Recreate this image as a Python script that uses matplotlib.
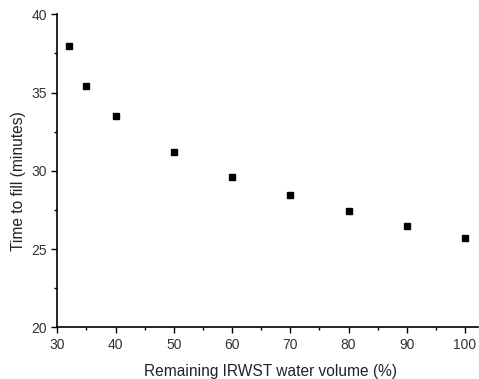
import matplotlib.pyplot as plt

# remaining IRWST water volume (%) vs time to fill (minutes)
volume = [32, 35, 40, 50, 60, 70, 80, 90, 100]
fill_time = [38.0, 35.4, 33.48, 31.2, 29.63, 28.43, 27.41, 26.49, 25.7]

x_ticks = [30, 40, 50, 60, 70, 80, 90, 100]
y_ticks = [20, 25, 30, 35, 40]

plt.rcParams['font.family'] = ['Liberation Sans', 'DejaVu Sans']

fig = plt.figure(figsize=(4.79, 3.79), dpi=100)
ax = fig.add_axes([0.1196, 0.1364, 0.878, 0.8259])

ax.plot(volume, fill_time, linestyle="none", marker="s", markersize=4.6,
        color="black")

ax.set_xlim(30, 102.2)
ax.set_ylim(20, 40)
ax.set_xticks(x_ticks)
ax.set_yticks(y_ticks)
ax.set_xticks([35, 45, 55, 65, 75, 85, 95], minor=True)
ax.set_yticks([22.5, 27.5, 32.5, 37.5], minor=True)

for side in ("top", "right"):
    ax.spines[side].set_visible(False)
for side in ("left", "bottom"):
    ax.spines[side].set_linewidth(1.2)

ax.tick_params(which="major", direction="out", length=4.5, width=1.0,
               labelsize=10, labelcolor="#333333", pad=3)
ax.tick_params(which="minor", direction="out", length=2, width=1.0)

ax.set_xlabel("Remaining IRWST water volume (%)", fontsize=11.2,
              color="#222222", labelpad=9)
ax.set_ylabel("Time to fill (minutes)", fontsize=11.2, color="#222222",
              labelpad=4)
# labels sit a bit off-centre in the original
ax.xaxis.label.set_x(0.506)
ax.yaxis.label.set_y(0.467)

fig.savefig("out.png", dpi=100)
